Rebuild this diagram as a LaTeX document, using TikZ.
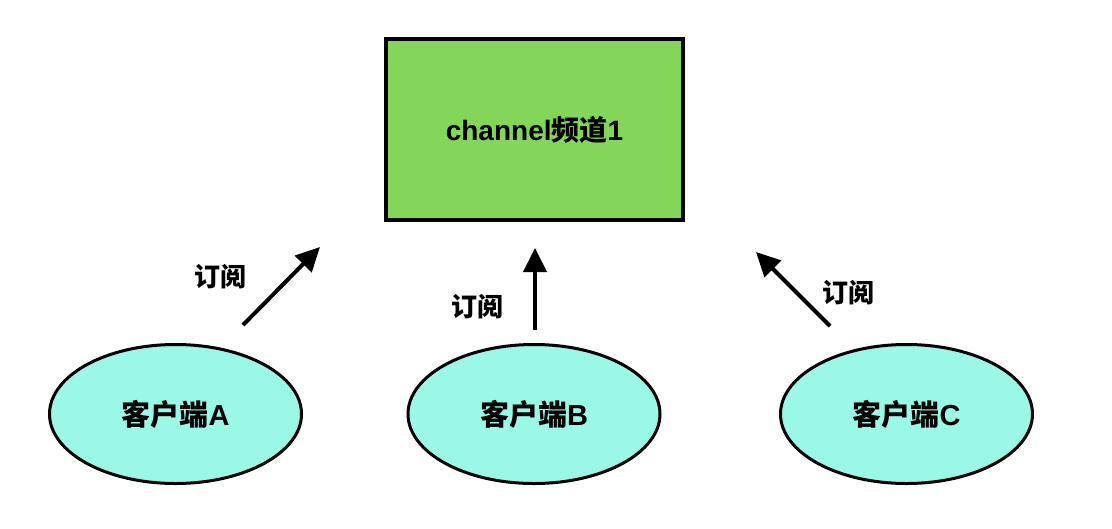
\documentclass[tikz,border=0pt]{standalone}
\usepackage{fontspec}
\setmainfont{Liberation Sans}
\newfontfamily\cjk{Noto Sans CJK SC}
\usepackage{tikz}
\usetikzlibrary{arrows.meta,shapes.geometric,positioning}
\definecolor{chgreen}{HTML}{83D65A}
\definecolor{clcyan}{HTML}{9CF8E6}
\tikzset{
  channelbox/.style={draw, line width=4pt, fill=chgreen, inner sep=0pt,
    minimum width=297pt, minimum height=181pt,
    font=\fontsize{28}{32}\selectfont\bfseries},
  clientnode/.style={ellipse, draw, line width=3pt, fill=clcyan, inner sep=0pt,
    minimum width=252pt, minimum height=139pt,
    font=\fontsize{29}{33}\selectfont\bfseries},
  subarrow/.style={line width=4pt, -{Triangle[length=24pt,width=23pt]}},
  sublabel/.style={font=\fontsize{26}{30}\selectfont\bfseries\cjk},
}

\begin{document}
\begin{tikzpicture}[x=1pt,y=-1pt]
        \useasboundingbox (0,0) rectangle (1112,528);
        % the channel
        \node[channelbox] (chan) at (534.5,129.5) {channel{\cjk 频道}1};
        % the clients
        \node[clientnode] (cliA) at (175.5,414) {{\cjk 客户端}A};
        \node[clientnode] (cliB) at (534,414) {{\cjk 客户端}B};
        \node[clientnode] (cliC) at (906.5,414) {{\cjk 客户端}C};
        % arrow ends
        \coordinate (tailA) at (243,325);
        \coordinate (tipA) at (320,247);
        \coordinate (tailB) at (535,330);
        \coordinate (tipB) at (535,248);
        \coordinate (tailC) at (830,326);
        \coordinate (tipC) at (756,252);
        % subscribe arrows
        \draw[subarrow] (tailA) -- (tipA);
        \draw[subarrow] (tailB) -- (tipB);
        \draw[subarrow] (tailC) -- (tipC);
        % labels
        \node[sublabel] (labA) at (220,277) {订阅};
        \node[sublabel] (labB) at (477,307) {订阅};
        \node[sublabel] (labC) at (848,293) {订阅};
    \end{tikzpicture}
\end{document}
